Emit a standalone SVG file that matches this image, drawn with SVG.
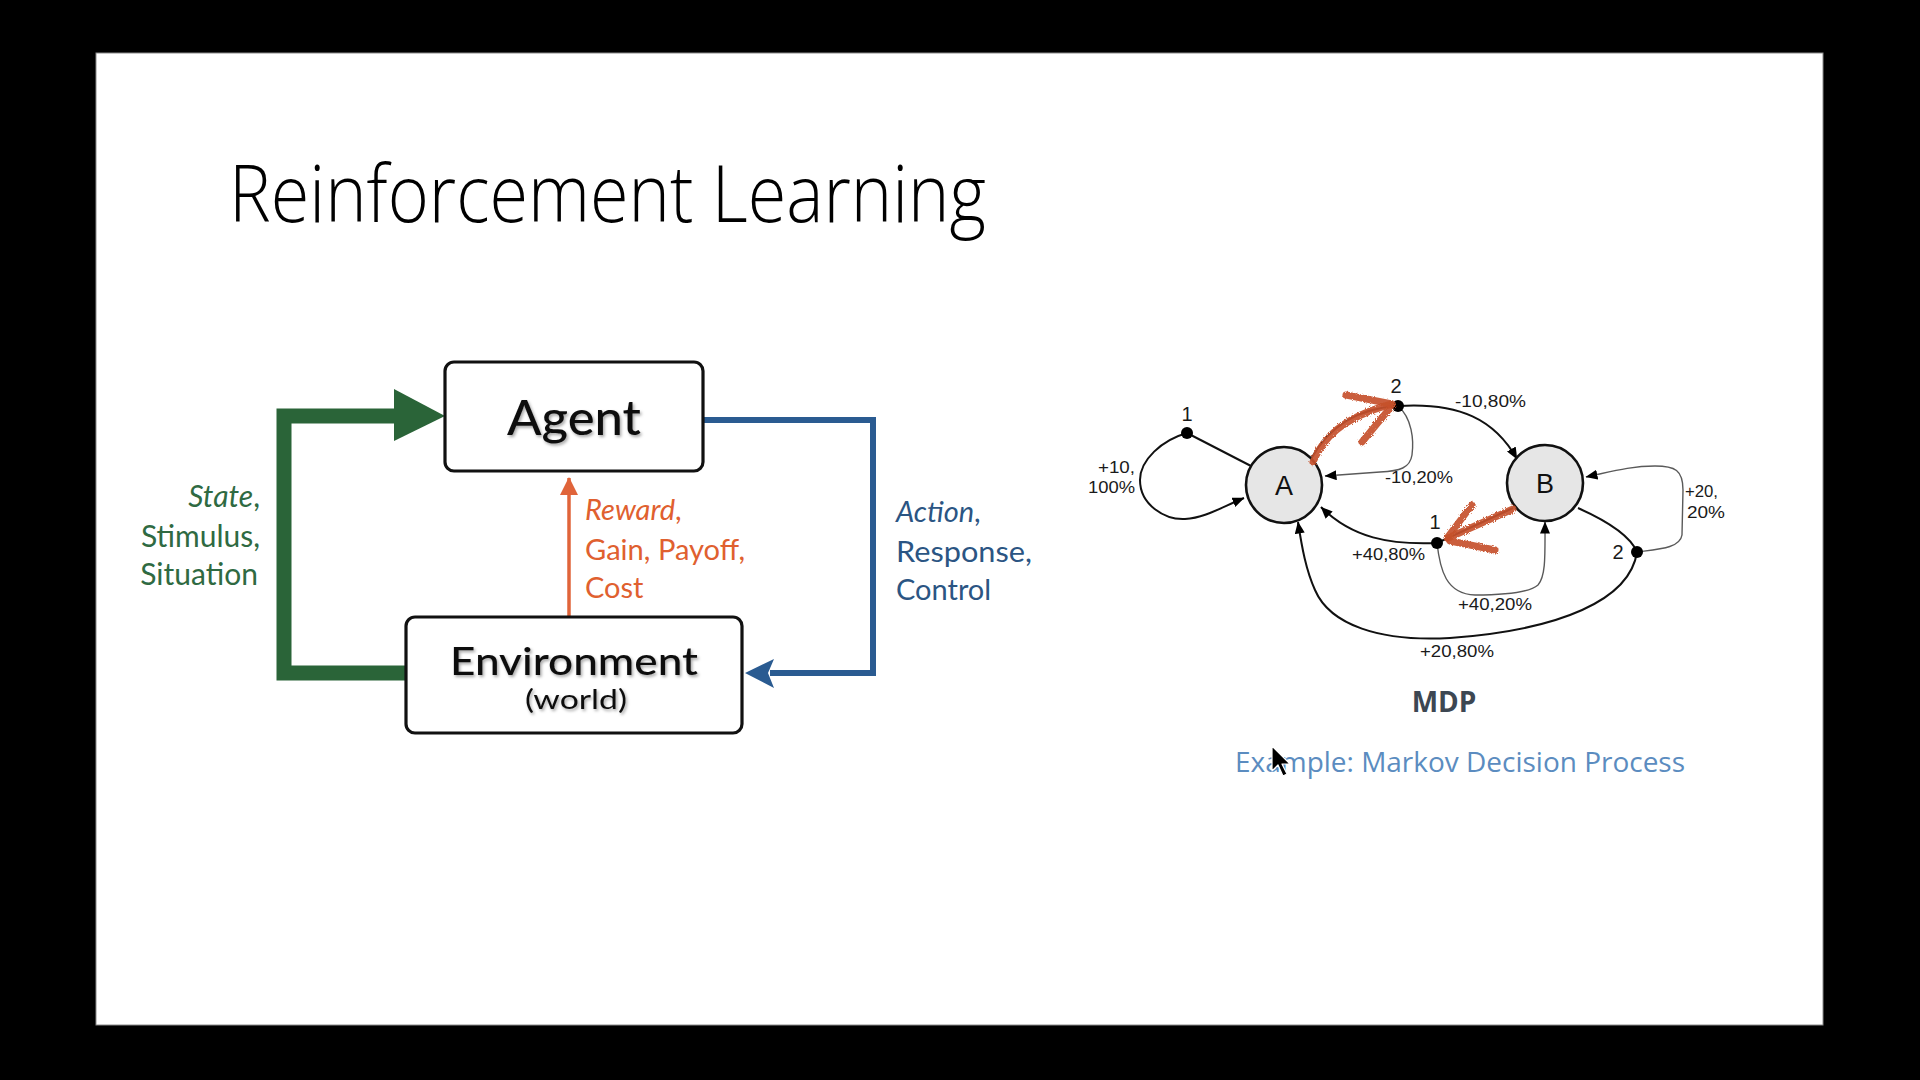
<svg xmlns="http://www.w3.org/2000/svg" width="1920" height="1080" viewBox="0 0 1920 1080">
  <defs>
    <style>
      .box { fill: #ffffff; stroke: #111111; stroke-width: 3.2; }
      .gill { font-family: Lato, "Open Sans", sans-serif; }
      .lbl { font-family: "Liberation Sans", Arial, sans-serif; font-size: 17px; fill: #1a1a1a; }
      .num { font-family: "Liberation Sans", Arial, sans-serif; font-size: 20px; fill: #1a1a1a; }
      .state { fill: #2f6a42; font-size: 30px; }
      .reward { fill: #e0602f; font-size: 29px; }
      .action { fill: #2b5583; font-size: 29px; }
      .edge { fill: none; stroke: #111111; stroke-width: 2; }
      .edge-thin { fill: none; stroke: #5a5a5a; stroke-width: 1.4; }
      .state-node { fill: #e6e6e6; stroke: #111111; stroke-width: 2.6; }
      .dot { fill: #000000; }
      .pen { fill: none; stroke: #c5502a; stroke-width: 7; stroke-linecap: round; stroke-linejoin: round; opacity: 0.92; }
    </style>
    <filter id="softShadow" x="-10%" y="-20%" width="130%" height="160%">
      <feDropShadow dx="1.5" dy="2" stdDeviation="1.6" flood-color="#000" flood-opacity="0.35"/>
    </filter>
    <filter id="chalk" x="-10%" y="-10%" width="120%" height="120%">
      <feTurbulence type="fractalNoise" baseFrequency="0.9" numOctaves="2" seed="3" result="n"/>
      <feDisplacementMap in="SourceGraphic" in2="n" scale="3.5"/>
    </filter>
    <marker id="tip" viewBox="0 0 12 10" refX="11.5" refY="5" markerWidth="12" markerHeight="10" markerUnits="userSpaceOnUse" orient="auto">
      <path d="M0,0 L12,5 L0,10 Z" fill="#000"/>
    </marker>
    <marker id="tipOrange" viewBox="0 0 18 18" refX="17" refY="9" markerWidth="18" markerHeight="18" markerUnits="userSpaceOnUse" orient="auto">
      <path d="M0,0 L18,9 L0,18 Z" fill="#e0643a"/>
    </marker>
  </defs>

  <!-- screen and slide -->
  <rect x="0" y="0" width="1920" height="1080" fill="#000"/>
  <rect x="96" y="53" width="1727" height="972" fill="#fff" stroke="#8a8a8a" stroke-width="1"/>

  <text x="229" y="222" font-family="'Open Sans', 'Liberation Sans', sans-serif" font-weight="300" font-size="80" fill="#000" textLength="757" lengthAdjust="spacingAndGlyphs">Reinforcement Learning</text>

  <!-- agent / environment loop -->
  <g id="connectors-loop">
    <!-- state feedback (green) -->
    <path d="M406,673 L284,673 L284,416 L395,416" fill="none" stroke="#2a6438" stroke-width="15" stroke-linejoin="miter"/>
    <path d="M394,389 L445,416 L394,441 Z" fill="#2a6438"/>
    <!-- action (blue) -->
    <path d="M703,420 L873,420 L873,673 L770,673" fill="none" stroke="#2a5b91" stroke-width="6"/>
    <path d="M774,659 L745,673 L774,688 L768,673 Z" fill="#2a5b91"/>
    <!-- reward (orange) -->
    <line x1="569" y1="617" x2="569" y2="478" stroke="#e0643a" stroke-width="3.5" marker-end="url(#tipOrange)"/>
  </g>

  <g id="agent">
    <rect class="box" x="445" y="362" width="258" height="109" rx="9"/>
    <text class="gill" x="574" y="435" text-anchor="middle" font-size="49" font-weight="500" fill="#111" textLength="134" lengthAdjust="spacingAndGlyphs" filter="url(#softShadow)">Agent</text>
  </g>

  <g id="environment">
    <rect class="box" x="406" y="617" width="336" height="116" rx="9"/>
    <text class="gill" x="574" y="675" text-anchor="middle" font-size="38" font-weight="500" fill="#111" textLength="248" lengthAdjust="spacingAndGlyphs" filter="url(#softShadow)">Environment</text>
    <text class="gill" x="576" y="709" text-anchor="middle" font-size="27" fill="#111" textLength="102" lengthAdjust="spacingAndGlyphs" filter="url(#softShadow)">(world)</text>
  </g>

  <g id="state-label" class="gill state" text-anchor="end">
    <text x="260" y="507"><tspan font-style="italic">State</tspan>,</text>
    <text x="260" y="547">Stimulus,</text>
    <text x="258" y="585">Situation</text>
  </g>

  <g id="reward-label" class="gill reward">
    <text x="585" y="520"><tspan font-style="italic">Reward</tspan>,</text>
    <text x="585" y="560" textLength="160" lengthAdjust="spacingAndGlyphs">Gain, Payoff,</text>
    <text x="585" y="598">Cost</text>
  </g>

  <g id="action-label" class="gill action">
    <text x="896" y="522"><tspan font-style="italic">Action</tspan>,</text>
    <text x="896" y="562" textLength="136" lengthAdjust="spacingAndGlyphs">Response,</text>
    <text x="896" y="600">Control</text>
  </g>

  <!-- Markov decision process -->
  <g id="mdp-edges">
    <!-- A, action 1 -->
    <path class="edge" d="M1251,466 L1187,433"/>
    <path class="edge" d="M1187,433 C1162,440 1140,460 1140,480 C1140,505 1165,520 1185,519 C1205,518 1222,507 1244,498" marker-end="url(#tip)"/>
    <!-- A, action 2 -->
    <path class="edge" d="M1311,459 C1330,425 1360,408 1398,406"/>
    <path class="edge" d="M1398,406 C1460,402 1495,420 1517,459" marker-end="url(#tip)"/>
    <path class="edge-thin" d="M1398,406 C1412,418 1414,440 1412,455 C1410,468 1400,471 1380,472 L1325,476" marker-end="url(#tip)"/>
    <!-- B, action 1 -->
    <path class="edge" d="M1513,508 L1437,543"/>
    <path class="edge" d="M1437,543 C1390,545 1352,538 1321,507" marker-end="url(#tip)"/>
    <path class="edge-thin" d="M1437,543 C1440,570 1446,594 1475,595 C1505,595 1530,592 1538,585 C1546,576 1545,555 1545,522" marker-end="url(#tip)"/>
    <!-- B, action 2 -->
    <path class="edge" d="M1578,508 C1605,520 1630,535 1637,552"/>
    <path class="edge-thin" d="M1637,552 C1660,549 1680,548 1682,535 L1683,490 C1683,470 1675,466 1655,466 C1630,466 1610,472 1586,477" marker-end="url(#tip)"/>
    <path class="edge" d="M1637,552 C1630,600 1560,630 1450,638 C1380,642 1330,625 1315,590 C1306,570 1302,548 1298,522" marker-end="url(#tip)"/>
  </g>

  <g id="node-A">
    <circle class="state-node" cx="1284" cy="485" r="38"/>
    <text x="1284" y="495" text-anchor="middle" font-family="'Liberation Sans', Arial, sans-serif" font-size="27" fill="#111">A</text>
  </g>
  <g id="node-B">
    <circle class="state-node" cx="1545" cy="483" r="38"/>
    <text x="1545" y="493" text-anchor="middle" font-family="'Liberation Sans', Arial, sans-serif" font-size="27" fill="#111">B</text>
  </g>

  <g id="action-A1">
    <circle class="dot" cx="1187" cy="433" r="6"/>
    <text class="num" x="1187" y="421" text-anchor="middle">1</text>
  </g>
  <g id="action-A2">
    <circle class="dot" cx="1398" cy="406" r="6"/>
    <text class="num" x="1396" y="393" text-anchor="middle">2</text>
  </g>
  <g id="action-B1">
    <circle class="dot" cx="1437" cy="543" r="6"/>
    <text class="num" x="1435" y="529" text-anchor="middle">1</text>
  </g>
  <g id="action-B2">
    <circle class="dot" cx="1637" cy="552" r="6"/>
    <text class="num" x="1618" y="559" text-anchor="middle">2</text>
  </g>

  <g id="mdp-labels" class="lbl">
    <text x="1135" y="473" text-anchor="end" textLength="37" lengthAdjust="spacingAndGlyphs">+10,</text>
    <text x="1135" y="493" text-anchor="end" textLength="47" lengthAdjust="spacingAndGlyphs">100%</text>
    <text x="1385" y="483" textLength="68" lengthAdjust="spacingAndGlyphs">-10,20%</text>
    <text x="1455" y="407" textLength="71" lengthAdjust="spacingAndGlyphs">-10,80%</text>
    <text x="1352" y="560" textLength="73" lengthAdjust="spacingAndGlyphs">+40,80%</text>
    <text x="1458" y="610" textLength="74" lengthAdjust="spacingAndGlyphs">+40,20%</text>
    <text x="1685" y="497" textLength="33" lengthAdjust="spacingAndGlyphs">+20,</text>
    <text x="1687" y="518" textLength="38" lengthAdjust="spacingAndGlyphs">20%</text>
    <text x="1420" y="657" textLength="74" lengthAdjust="spacingAndGlyphs">+20,80%</text>
  </g>

  <!-- pen strokes drawn over the chart -->
  <g id="pen-marks" filter="url(#chalk)">
    <path class="pen" d="M1313,462 C1322,440 1340,418 1392,404"/>
    <path class="pen" d="M1346,395 L1392,404"/>
    <path class="pen" d="M1362,442 L1390,408"/>
    <path class="pen" d="M1513,509 L1448,538"/>
    <path class="pen" d="M1472,505 L1447,538"/>
    <path class="pen" d="M1495,550 L1450,541"/>
  </g>

  <text x="1444" y="712" text-anchor="middle" font-family="'Open Sans', 'Liberation Sans', sans-serif" font-weight="700" font-size="28" fill="#3d4752">MDP</text>
  <text x="1235" y="772" font-family="'Open Sans', 'Liberation Sans', sans-serif" font-size="28" fill="#5b8cc0" textLength="450" lengthAdjust="spacingAndGlyphs">Example: Markov Decision Process</text>

  <!-- pointer -->
  <path d="M1272,746 L1272,771 L1278,765 L1283,776 L1287,774 L1282,764 L1290,764 Z" fill="#000" stroke="#fff" stroke-width="1.2" stroke-linejoin="round"/>
</svg>
